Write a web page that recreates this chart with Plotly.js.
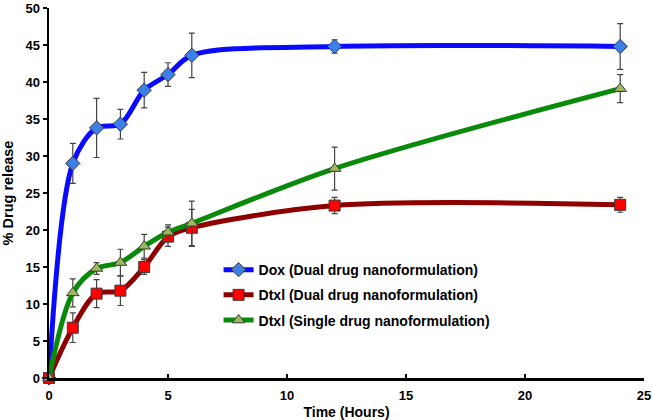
<!DOCTYPE html>
<html>
<head>
<meta charset="utf-8">
<script src="https://cdn.plot.ly/plotly-3.0.1.min.js"></script>
<style>html,body{margin:0;padding:0;background:#fff;}#chart{width:653px;height:420px;}</style>
</head>
<body>
<div id="chart"></div>
<script>
const timeHours = [0, 1, 2, 3, 4, 5, 6, 12, 24];

const doxDual = [0, 29.0, 33.8, 34.3, 38.9, 41.0, 43.6, 44.8, 44.8];
const doxDualErr = [0, 2.7, 4.0, 2.0, 2.4, 1.6, 3.0, 0.9, 3.1];

const dtxlDual = [0, 6.8, 11.4, 11.8, 15.0, 19.1, 20.3, 23.3, 23.4];
const dtxlDualErr = [0, 2.0, 1.9, 2.0, 1.0, 1.3, 2.5, 1.1, 1.0];

const dtxlSingle = [0, 11.5, 14.8, 15.6, 17.8, 19.7, 20.9, 28.3, 39.1];
const dtxlSingleErr = [0, 1.9, 0.8, 1.8, 1.6, 1.0, 3.0, 2.9, 1.9];

const seriesNames = [
  "Dox (Dual drug nanoformulation)",
  "Dtxl (Dual drug nanoformulation)",
  "Dtxl (Single drug nanoformulation)"
];

function mk(y, err, name, lineColor, markerColor, symbol, size, group) {
  return {
    x: timeHours, y: y, name: name, type: "scatter", mode: "lines+markers",
    legendgroup: group,
    line: {color: lineColor, width: 5, shape: "spline", smoothing: 0.9},
    marker: {symbol: symbol, size: size, color: markerColor, line: {color: "#3a3a3a", width: 1}},
    error_y: {type: "data", array: err, visible: true, color: "#444", thickness: 1.2, width: 3},
    cliponaxis: false
  };
}

const traces = [
  mk(doxDual, doxDualErr, seriesNames[0], "#0a0aff", "#3d7fe8", "diamond", 11, "a"),
  mk(dtxlDual, dtxlDualErr, seriesNames[1], "#8e0000", "#ff0000", "square", 11, "b"),
  mk(dtxlSingle, dtxlSingleErr, seriesNames[2], "#0a8a0a", "#9bb95a", "triangle-up", 11, "c")
];

const font = {family: "Liberation Sans, Arial, sans-serif", color: "#000"};

const layout = {
  width: 653, height: 420,
  margin: {l: 49, r: 9, t: 8, b: 42},
  paper_bgcolor: "#fff", plot_bgcolor: "#fff",
  font: font,
  showlegend: true,
  legend: {
    x: 0.285, y: 0.335, xanchor: "left", yanchor: "top",
    bgcolor: "rgba(255,255,255,0)",
    font: {family: font.family, size: 14, color: "#000", weight: "bold"},
    traceorder: "grouped", tracegroupgap: 4, itemwidth: 30
  },
  xaxis: {
    range: [0, 25], tickvals: [0, 5, 10, 15, 20, 25], ticks: "inside", ticklen: 4, tickwidth: 2,
    tickcolor: "#000", showline: true, linecolor: "#000", linewidth: 2.5, showgrid: false, zeroline: false,
    ticklabelstandoff: 4,
    tickfont: {family: font.family, size: 13, color: "#000", weight: "bold"},
    title: {text: "Time (Hours)", font: {family: font.family, size: 14, color: "#000", weight: "bold"}, standoff: 5}
  },
  yaxis: {
    range: [0, 50], tickvals: [0, 5, 10, 15, 20, 25, 30, 35, 40, 45, 50], ticks: "outside", ticklen: 4, tickwidth: 2,
    tickcolor: "#000", showline: true, linecolor: "#000", linewidth: 2.5, showgrid: false, zeroline: false,
    tickfont: {family: font.family, size: 13, color: "#000", weight: "bold"},
    title: {text: "% Drug release", font: {family: font.family, size: 14.5, color: "#000", weight: "bold"}, standoff: 9}
  }
};

Plotly.newPlot("chart", traces, layout, {displayModeBar: false, staticPlot: true});
</script>
</body>
</html>
